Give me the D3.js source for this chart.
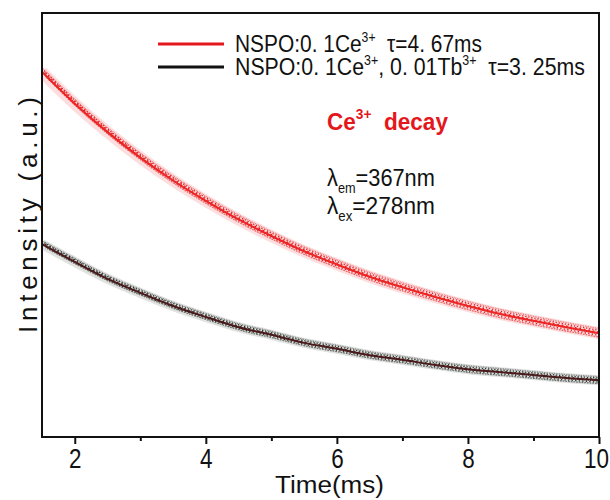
<!DOCTYPE html>
<html>
<head>
<meta charset="utf-8">
<script src="https://cdn.jsdelivr.net/npm/d3@7"></script>
<style>
  body { margin: 0; background: #fff; }
  text { font-family: "Liberation Sans", "DejaVu Sans", sans-serif; }
</style>
</head>
<body>
<div id="chart"></div>
<script>
var times = [1.5, 2.0, 2.5, 3.0, 3.5, 4.0, 4.5, 5.0, 5.5, 6.0, 6.5, 7.0, 7.5, 8.0, 8.5, 9.0, 9.5, 10.0];
var ceOnly = [0.861, 0.786, 0.719, 0.659, 0.605, 0.557, 0.513, 0.474, 0.438, 0.407, 0.378, 0.353, 0.330, 0.309, 0.290, 0.274, 0.259, 0.245];
var ceTb = [0.455, 0.413, 0.373, 0.340, 0.309, 0.283, 0.259, 0.241, 0.222, 0.208, 0.193, 0.182, 0.170, 0.160, 0.153, 0.146, 0.139, 0.134];
var xTicks = [2, 4, 6, 8, 10];
var xMinorTicks = [3, 5, 7, 9];

var svgW = 610;
var svgH = 500;

var m = { left: 42, top: 13, right: 11, bottom: 63 },
    w = svgW - m.left - m.right,
    h = svgH - m.top - m.bottom;

var svg = d3.select("#chart")
    .append("svg")
    .attr("width", svgW)
    .attr("height", svgH);

var xScale = d3.scaleLinear().domain([1.5, 10]).range([m.left, m.left + w]);
var yScale = d3.scaleLinear().domain([0, 1]).range([m.top + h, m.top]);

svg.append("clipPath")
    .attr("id", "plot-area")
    .append("rect")
    .attr("x", m.left)
    .attr("y", m.top)
    .attr("width", w)
    .attr("height", h);

var line = d3.line()
    .x(function(d, i) { return xScale(times[i]); })
    .y(function(d) { return yScale(d); })
    .curve(d3.curveMonotoneX);

var plot = svg.append("g").attr("clip-path", "url(#plot-area)");

// noisy data band: a soft halo, speckled offset strokes and a fitted core
function drawSeries(values, band, haloColor, speckColor, coreColor) {
    plot.append("path")
        .attr("d", line(values))
        .attr("fill", "none")
        .attr("stroke", haloColor)
        .attr("stroke-opacity", 0.22)
        .attr("stroke-width", band + 3);
    var offsets = [-0.5, -0.3, -0.1, 0.1, 0.3, 0.5];
    offsets.forEach(function(o, k) {
        plot.append("path")
            .attr("d", line(values))
            .attr("transform", "translate(" + (k * 0.7) + "," + (o * band) + ")")
            .attr("fill", "none")
            .attr("stroke", speckColor)
            .attr("stroke-opacity", Math.abs(o) > 0.4 ? 0.6 : 0.95)
            .attr("stroke-width", 1.3)
            .attr("stroke-dasharray", (0.8 + (k % 3) * 0.5) + "," + (0.9 + ((k * 7) % 5) * 0.45))
            .attr("stroke-dashoffset", k * 1.3);
    });
    plot.append("path")
        .attr("d", line(values))
        .attr("fill", "none")
        .attr("stroke", coreColor)
        .attr("stroke-width", 2);
}

drawSeries(ceOnly, 9, "#f26b6b", "#e3171c", "#ec2424");
drawSeries(ceTb, 7, "#6d7a6d", "#262826", "#4a1a1a");

// frame
svg.append("rect")
    .attr("x", m.left)
    .attr("y", m.top)
    .attr("width", w)
    .attr("height", h)
    .attr("fill", "none")
    .attr("stroke", "#111")
    .attr("stroke-width", 2);

// squeeze a text horizontally so it spans the given width, anchored at (x, y)
function fitText(t, x, y, width, anchor) {
    var bw = t.node().getComputedTextLength();
    var sx = width / bw;
    var x0 = anchor === "middle" ? x - width / 2 : x;
    t.attr("x", 0).attr("y", 0)
        .attr("transform", "translate(" + x0 + "," + y + ") scale(" + sx + ",1)");
}

// bottom axis
var xAxis = d3.axisBottom(xScale)
    .tickValues(xTicks)
    .tickSize(7)
    .tickFormat(d3.format("d"));
var xG = svg.append("g")
    .attr("transform", "translate(0," + (m.top + h) + ")")
    .call(xAxis);
xG.select(".domain").remove();
xG.selectAll(".tick line").attr("stroke", "#111").attr("stroke-width", 2);
xG.selectAll(".tick text")
    .attr("dy", 0)
    .attr("fill", "#111")
    .attr("text-anchor", "start")
    .style("font-size", "28px")
    .each(function(d) {
        var n = String(d).length;
        fitText(d3.select(this), d === 10 ? -3 : 0, 31, 12.5 * n, "middle");
    });

svg.append("g")
    .attr("transform", "translate(0," + (m.top + h) + ")")
    .call(d3.axisBottom(xScale).tickValues(xMinorTicks).tickSize(4).tickFormat(""))
    .call(function(g) { g.select(".domain").remove(); })
    .selectAll(".tick line").attr("stroke", "#111").attr("stroke-width", 2);

// axis titles
var xTitle = svg.append("text")
    .attr("fill", "#111")
    .style("font-size", "24px")
    .text("Time(ms)");
fitText(xTitle, 275, 493, 109);

svg.append("text")
    .attr("transform", "translate(37,333) rotate(-90)")
    .attr("fill", "#111")
    .attr("textLength", 236)
    .attr("lengthAdjust", "spacing")
    .style("font-size", "26px")
    .text("Intensity (a.u.)");

// legend
var legend = [
    { color: "#e3171c", y: 44, width: 247, parts: [["NSPO:0. 1Ce", 0], ["3+", 1], ["  τ=4. 67ms", 0]] },
    { color: "#111", y: 67, width: 350, parts: [["NSPO:0. 1Ce", 0], ["3+", 1], [", 0. 01Tb", 0], ["3+", 1], ["  τ=3. 25ms", 0]] }
];
legend.forEach(function(l) {
    svg.append("line")
        .attr("x1", 158).attr("x2", 224)
        .attr("y1", l.y).attr("y2", l.y)
        .attr("stroke", l.color)
        .attr("stroke-width", 3);
    var t = svg.append("text")
        .attr("fill", "#111")
        .style("font-size", "24px")
        .style("white-space", "pre");
    var prevSup = false;
    l.parts.forEach(function(p) {
        var dy = p[1] ? -10 : (prevSup ? 10 : 0);
        t.append("tspan")
            .attr("dy", dy)
            .style("font-size", p[1] ? "14px" : "24px")
            .text(p[0]);
        prevSup = p[1] === 1;
    });
    fitText(t, 235, l.y + 8, l.width);
});

// annotations
var ann = svg.append("text")
    .attr("fill", "#e3171c")
    .style("font-size", "23px")
    .style("font-weight", "bold")
    .style("white-space", "pre");
ann.append("tspan").text("Ce");
ann.append("tspan").attr("dy", -11).style("font-size", "14px").text("3+");
ann.append("tspan").attr("dy", 11).text("  decay");
fitText(ann, 327, 130, 121);

function lambdaLabel(y, sub, val) {
    var t = svg.append("text")
        .attr("fill", "#111")
        .style("font-size", "24px");
    t.append("tspan").text("λ");
    t.append("tspan").attr("dy", 7).style("font-size", "14px").text(sub);
    t.append("tspan").attr("dy", -7).text(val);
    fitText(t, 327, y, 108);
}
lambdaLabel(186, "em", "=367nm");
lambdaLabel(214, "ex", "=278nm");
</script>
</body>
</html>
